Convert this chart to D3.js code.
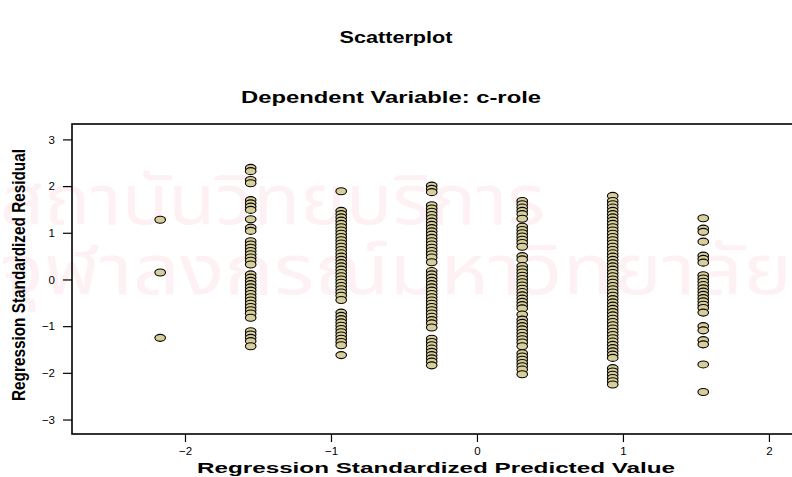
<!DOCTYPE html>
<html>
<head>
<meta charset="utf-8">
<script src="https://cdn.jsdelivr.net/npm/d3@7"></script>
<style>
  html, body { margin: 0; padding: 0; background: #ffffff; }
  svg { display: block; }
</style>
</head>
<body>
<div id="chart"></div>
<script>
// ---- Data ----
const chartTitle = "Scatterplot";
const chartSubtitle = "Dependent Variable: c-role";
const xAxisTitle = "Regression Standardized Predicted Value";
const yAxisTitle = "Regression Standardized Residual";
const xTicks = [-2, -1, 0, 1, 2];
const yTicks = [-3, -2, -1, 0, 1, 2, 3];

// predicted value levels (x) of each vertical column
const predictedLevels = [-2.17, -1.55, -0.93, -0.31, 0.31, 0.93, 1.55];

// standardized residuals (y) observed at each level
const residualsA = [1.28, 0.15, -1.25];
const residualsB = [2.39, 2.32, 2.13, 2.06, 1.70, 1.63, 1.56, 1.49, 1.29, 1.11, 1.04, 0.82, 0.75, 0.68, 0.61, 0.54, 0.47, 0.40, 0.32, 0.11, 0.04, -0.03, -0.10, -0.17, -0.24, -0.31, -0.38, -0.45, -0.52, -0.59, -0.66, -0.73, -0.82, -1.11, -1.18, -1.25, -1.32, -1.43];
const residualsC = [1.89, 1.47, 1.40, 1.33, 1.26, 1.19, 1.12, 1.05, 0.98, 0.91, 0.84, 0.77, 0.70, 0.63, 0.56, 0.49, 0.42, 0.35, 0.28, 0.21, 0.14, 0.07, 0.00, -0.07, -0.14, -0.21, -0.28, -0.35, -0.44, -0.71, -0.78, -0.85, -0.92, -0.99, -1.06, -1.13, -1.20, -1.27, -1.34, -1.41, -1.62];
const residualsD = [2.01, 1.94, 1.87, 1.59, 1.52, 1.45, 1.38, 1.31, 1.24, 1.17, 1.10, 1.03, 0.96, 0.89, 0.82, 0.75, 0.68, 0.61, 0.54, 0.47, 0.37, 0.18, 0.11, 0.04, -0.03, -0.10, -0.17, -0.24, -0.31, -0.38, -0.45, -0.52, -0.59, -0.66, -0.73, -0.80, -0.87, -0.94, -1.03, -1.27, -1.34, -1.41, -1.48, -1.55, -1.62, -1.69, -1.76, -1.84];
const residualsE = [1.68, 1.61, 1.54, 1.47, 1.40, 1.30, 1.13, 1.06, 0.99, 0.92, 0.85, 0.78, 0.70, 0.50, 0.43, 0.29, 0.22, 0.15, 0.08, 0.01, -0.06, -0.13, -0.20, -0.27, -0.34, -0.41, -0.48, -0.55, -0.62, -0.75, -0.86, -0.93, -1.00, -1.07, -1.14, -1.21, -1.28, -1.35, -1.43, -1.58, -1.65, -1.72, -1.79, -1.86, -1.93, -2.03];
const residualsF = [1.79, 1.68, 1.61, 1.54, 1.47, 1.40, 1.33, 1.26, 1.19, 1.12, 1.05, 0.98, 0.91, 0.84, 0.77, 0.70, 0.63, 0.56, 0.49, 0.42, 0.35, 0.28, 0.21, 0.14, 0.07, 0.00, -0.07, -0.14, -0.21, -0.28, -0.35, -0.42, -0.49, -0.56, -0.63, -0.70, -0.77, -0.84, -0.91, -0.98, -1.05, -1.12, -1.19, -1.26, -1.33, -1.40, -1.47, -1.54, -1.61, -1.68, -1.90, -1.97, -2.04, -2.11, -2.18, -2.25];
const residualsG = [1.31, 1.09, 1.02, 0.81, 0.51, 0.44, 0.36, 0.09, 0.02, -0.05, -0.12, -0.19, -0.26, -0.33, -0.40, -0.47, -0.54, -0.61, -0.71, -1.00, -1.09, -1.30, -1.39, -1.82, -2.41];
const residualGroups = [residualsA, residualsB, residualsC, residualsD, residualsE, residualsF, residualsG];

// faint watermark of the scanned source page
const watermarkLines = ["สถาบันวิทยบริการ", "จุฬาลงกรณ์มหาวิทยาลัย"];

// ---- Build point table ----
const points = [];
predictedLevels.forEach((px, i) => {
  residualGroups[i].forEach(r => points.push({ x: px, y: r }));
});

// ---- Layout ----
const W = 792, H = 477;
const plot = { left: 72, top: 124, right: 812, bottom: 434 };
const font = "'Liberation Sans', Arial, Helvetica, sans-serif";

const svg = d3.select("#chart").append("svg")
  .attr("width", W).attr("height", H);

svg.append("rect").attr("width", W).attr("height", H).attr("fill", "#ffffff");

// watermark (very faint, behind everything)
const wm = svg.append("g").attr("fill", "#fdf1f3")
  .style("font-family", "'Noto Sans Thai', 'Noto Sans', 'DejaVu Sans', sans-serif");
wm.append("text").attr("x", 0).attr("y", 224).attr("font-size", 70)
  .attr("textLength", 545).attr("lengthAdjust", "spacingAndGlyphs").text(watermarkLines[0]);
wm.append("text").attr("x", 0).attr("y", 294).attr("font-size", 70)
  .attr("textLength", 792).attr("lengthAdjust", "spacingAndGlyphs").text(watermarkLines[1]);

const x = d3.scaleLinear().domain([-2.774, 2.295]).range([plot.left, plot.right]);
const y = d3.scaleLinear().domain([-3.31, 3.33]).range([plot.bottom, plot.top]);

// titles
svg.append("text").attr("x", 396).attr("y", 43).attr("text-anchor", "middle")
  .attr("font-family", font).attr("font-weight", "bold").attr("font-size", 16)
  .attr("textLength", 113).attr("lengthAdjust", "spacingAndGlyphs")
  .text(chartTitle);
svg.append("text").attr("x", 391).attr("y", 103).attr("text-anchor", "middle")
  .attr("font-family", font).attr("font-weight", "bold").attr("font-size", 16)
  .attr("textLength", 300).attr("lengthAdjust", "spacingAndGlyphs")
  .text(chartSubtitle);

// axes
const yAxis = d3.axisLeft(y).tickValues(yTicks).tickSize(9).tickPadding(8).tickFormat(d3.format("d"));
const gy = svg.append("g").attr("transform", `translate(${plot.left},0)`).call(yAxis);
gy.select(".domain").remove();
gy.selectAll("line").attr("stroke", "#000").attr("stroke-width", 1.2);
gy.selectAll("text").attr("font-family", font).attr("font-size", 11.5).attr("fill", "#000");

const xAxis = d3.axisBottom(x).tickValues(xTicks).tickSize(8).tickPadding(5).tickFormat(d3.format("d"));
const gx = svg.append("g").attr("transform", `translate(0,${plot.bottom})`).call(xAxis);
gx.select(".domain").remove();
gx.selectAll("line").attr("stroke", "#000").attr("stroke-width", 1.2);
gx.selectAll("text").attr("font-family", font).attr("font-size", 11.5).attr("fill", "#000");

// frame
svg.append("rect")
  .attr("x", plot.left).attr("y", plot.top)
  .attr("width", plot.right - plot.left).attr("height", plot.bottom - plot.top)
  .attr("fill", "none").attr("stroke", "#000").attr("stroke-width", 1.6);

// axis titles
svg.append("text").attr("x", 436).attr("y", 473).attr("text-anchor", "middle")
  .attr("font-family", font).attr("font-weight", "bold").attr("font-size", 15.5)
  .attr("textLength", 478).attr("lengthAdjust", "spacingAndGlyphs")
  .text(xAxisTitle);
svg.append("text").attr("transform", `translate(25,${(plot.top + plot.bottom) / 2 - 4}) rotate(-90)`)
  .attr("text-anchor", "middle")
  .attr("font-family", font).attr("font-weight", "bold").attr("font-size", 19)
  .attr("textLength", 252).attr("lengthAdjust", "spacingAndGlyphs")
  .text(yAxisTitle);

// points
svg.append("g").selectAll("ellipse").data(points).join("ellipse")
  .attr("cx", d => x(d.x)).attr("cy", d => y(d.y))
  .attr("rx", 5.3).attr("ry", 3.5)
  .attr("fill", "#d8ce99").attr("stroke", "#000").attr("stroke-width", 1.1);
</script>
</body>
</html>
